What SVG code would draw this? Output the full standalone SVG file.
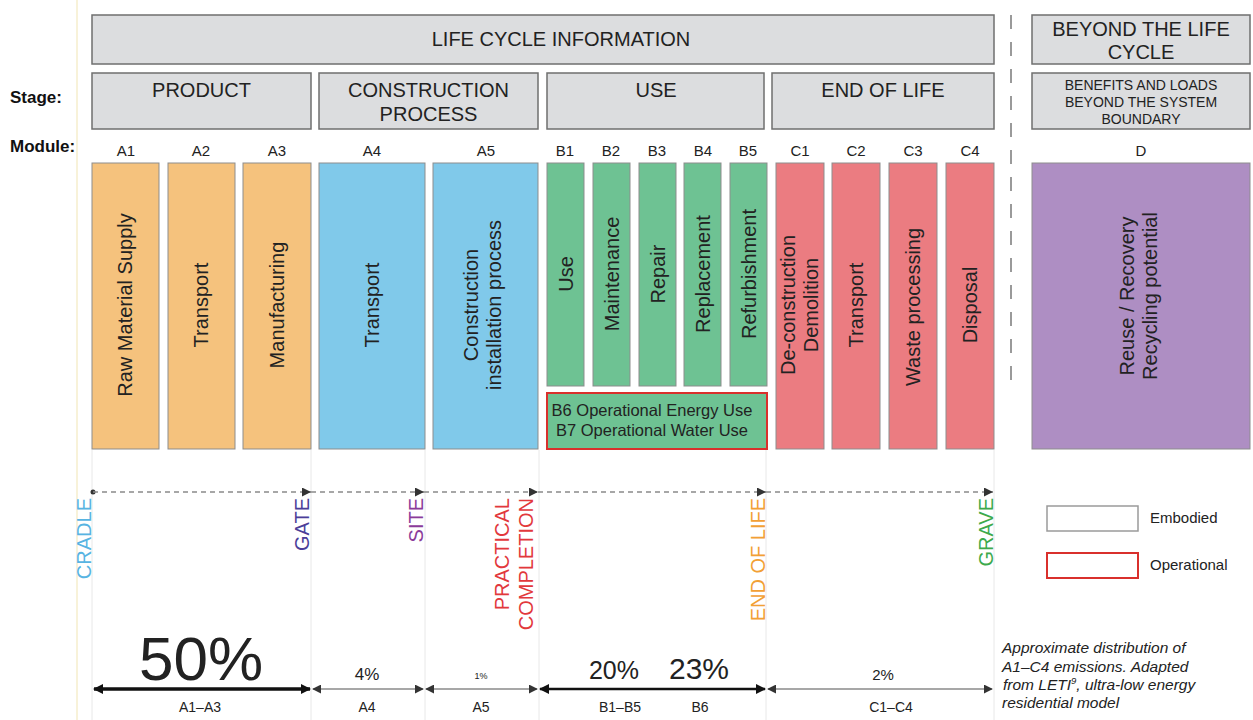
<svg xmlns="http://www.w3.org/2000/svg" width="1253" height="720" viewBox="0 0 1253 720">
<defs>
<style>
text{font-family:"Liberation Sans",Arial,Helvetica,sans-serif;fill:#222}
.hdr{fill:#dcdddf;stroke:#6f6f6f;stroke-width:1.5}
.h20{font-size:20px;text-anchor:middle}
.h14{font-size:14px;text-anchor:middle}
.lbl{font-size:17px;font-weight:bold;fill:#111}
.mod{font-size:15px;text-anchor:middle}
.col{stroke:#8d8d8d;stroke-width:1}
.or{fill:#f5c27d}.bl{fill:#80c9ea}.gr{fill:#6ec293}.rd{fill:#eb7c81}.pu{fill:#ae8ec3}
.ct{font-size:20px;text-anchor:middle}
.mk{font-size:20px;text-anchor:end}
.sep{stroke:#e8e8e8;stroke-width:1}
.pct{text-anchor:middle}
.ab{font-size:14px;text-anchor:middle}
.cap{font-size:15.5px;font-style:italic}
</style>
<marker id="mDash" viewBox="0 0 10 10" refX="10" refY="5" markerWidth="9" markerHeight="9" markerUnits="userSpaceOnUse" orient="auto"><path d="M0,0 L10,5 L0,10 z" fill="#333"/></marker>
<marker id="mThick" viewBox="0 0 10 10" refX="9" refY="5" markerWidth="12" markerHeight="10" markerUnits="userSpaceOnUse" orient="auto-start-reverse"><path d="M0,0 L10,5 L0,10 z" fill="#111"/></marker>
<marker id="mThin" viewBox="0 0 10 10" refX="9" refY="5" markerWidth="9" markerHeight="9" markerUnits="userSpaceOnUse" orient="auto-start-reverse"><path d="M0,0 L10,5 L0,10 z" fill="#333"/></marker>
</defs>
<rect width="1253" height="720" fill="#fff"/>
<line x1="77" y1="0" x2="77" y2="720" stroke="#f4eac0" stroke-width="1.2"/>
<g id="separators">
<line class="sep" x1="92" y1="450" x2="92" y2="720"/>
<line class="sep" x1="311" y1="450" x2="311" y2="720"/>
<line class="sep" x1="425" y1="450" x2="425" y2="720"/>
<line class="sep" x1="539" y1="450" x2="539" y2="720"/>
<line class="sep" x1="766" y1="450" x2="766" y2="720"/>
<line class="sep" x1="994" y1="450" x2="994" y2="720"/>
</g>
<line id="boundary" x1="1011" y1="15" x2="1011" y2="392" stroke="#7a7a7a" stroke-width="1.5" stroke-dasharray="14 13"/>

<text class="lbl" x="10" y="103">Stage:</text>
<text class="lbl" x="10" y="152">Module:</text>

<g id="lifecycle"><rect class="hdr" x="92" y="15" width="902" height="49"/><text class="h20" x="561" y="46">LIFE CYCLE INFORMATION</text></g>
<g id="beyond"><rect class="hdr" x="1032" y="15" width="218" height="49"/><text class="h20" x="1141" y="36">BEYOND THE LIFE</text><text class="h20" x="1141" y="59">CYCLE</text></g>
<g id="stage-product"><rect class="hdr" x="92" y="73" width="219" height="56"/><text class="h20" x="201.5" y="97">PRODUCT</text></g>
<g id="stage-construction"><rect class="hdr" x="319" y="73" width="219" height="56"/><text class="h20" x="428.5" y="97">CONSTRUCTION</text><text class="h20" x="428.5" y="121">PROCESS</text></g>
<g id="stage-use"><rect class="hdr" x="547" y="73" width="217" height="56"/><text class="h20" x="656" y="97">USE</text></g>
<g id="stage-eol"><rect class="hdr" x="772" y="73" width="222" height="56"/><text class="h20" x="883" y="97">END OF LIFE</text></g>
<g id="stage-benefits"><rect class="hdr" x="1032" y="73" width="218" height="56"/><text class="h14" x="1141" y="90">BENEFITS AND LOADS</text><text class="h14" x="1141" y="107">BEYOND THE SYSTEM</text><text class="h14" x="1141" y="124">BOUNDARY</text></g>

<g id="modules">
<text class="mod" x="126" y="156">A1</text>
<text class="mod" x="201" y="156">A2</text>
<text class="mod" x="277" y="156">A3</text>
<text class="mod" x="372" y="156">A4</text>
<text class="mod" x="486" y="156">A5</text>
<text class="mod" x="565" y="156">B1</text>
<text class="mod" x="611" y="156">B2</text>
<text class="mod" x="657" y="156">B3</text>
<text class="mod" x="703" y="156">B4</text>
<text class="mod" x="748" y="156">B5</text>
<text class="mod" x="800" y="156">C1</text>
<text class="mod" x="856" y="156">C2</text>
<text class="mod" x="913" y="156">C3</text>
<text class="mod" x="970" y="156">C4</text>
<text class="mod" x="1141" y="156">D</text>
</g>

<g id="A1"><rect class="col or" x="92" y="163" width="67" height="286"/><text class="ct" transform="translate(132 305) rotate(-90)">Raw Material Supply</text></g>
<g id="A2"><rect class="col or" x="168" y="163" width="67" height="286"/><text class="ct" transform="translate(208 305) rotate(-90)">Transport</text></g>
<g id="A3"><rect class="col or" x="243" y="163" width="68" height="286"/><text class="ct" transform="translate(284 305) rotate(-90)">Manufacturing</text></g>
<g id="A4"><rect class="col bl" x="319" y="163" width="106" height="286"/><text class="ct" transform="translate(379 305) rotate(-90)">Transport</text></g>
<g id="A5"><rect class="col bl" x="433" y="163" width="105" height="286"/><text class="ct" transform="translate(478 305) rotate(-90)">Construction</text><text class="ct" transform="translate(501 305) rotate(-90)">installation process</text></g>
<g id="B1"><rect class="col gr" x="547" y="163" width="37" height="223"/><text class="ct" transform="translate(573 274) rotate(-90)">Use</text></g>
<g id="B2"><rect class="col gr" x="593" y="163" width="37" height="223"/><text class="ct" transform="translate(619 274) rotate(-90)">Maintenance</text></g>
<g id="B3"><rect class="col gr" x="639" y="163" width="37" height="223"/><text class="ct" transform="translate(665 274) rotate(-90)">Repair</text></g>
<g id="B4"><rect class="col gr" x="684" y="163" width="37" height="223"/><text class="ct" transform="translate(710 274) rotate(-90)">Replacement</text></g>
<g id="B5"><rect class="col gr" x="730" y="163" width="37" height="223"/><text class="ct" transform="translate(756 274) rotate(-90)">Refurbishment</text></g>
<g id="B6B7"><rect x="547" y="393" width="220" height="56" fill="#6ec293" stroke="#d9302c" stroke-width="2"/><text font-size="16.5" text-anchor="middle" x="652" y="416">B6 Operational Energy Use</text><text font-size="16.5" text-anchor="middle" x="652" y="436">B7 Operational Water Use</text></g>
<g id="C1"><rect class="col rd" x="776" y="163" width="48" height="286"/><text class="ct" transform="translate(795 305) rotate(-90)">De-construction</text><text class="ct" transform="translate(818 305) rotate(-90)">Demolition</text></g>
<g id="C2"><rect class="col rd" x="832" y="163" width="48" height="286"/><text class="ct" transform="translate(863 305) rotate(-90)">Transport</text></g>
<g id="C3"><rect class="col rd" x="889" y="163" width="48" height="286"/><text class="ct" transform="translate(920 307) rotate(-90)">Waste processing</text></g>
<g id="C4"><rect class="col rd" x="946" y="163" width="48" height="286"/><text class="ct" transform="translate(977 305) rotate(-90)">Disposal</text></g>
<g id="D"><rect class="col pu" x="1032" y="163" width="218" height="286"/><text class="ct" transform="translate(1134 296) rotate(-90)">Reuse / Recovery</text><text class="ct" transform="translate(1157 296) rotate(-90)">Recycling potential</text></g>

<g id="connectors">
<circle cx="93" cy="492" r="2.5" fill="#333"/>
<g stroke="#8a8a8a" stroke-width="1.5" stroke-dasharray="5 4" fill="none" marker-end="url(#mDash)">
<line x1="93" y1="492" x2="311" y2="492"/>
<line x1="311" y1="492" x2="424" y2="492"/>
<line x1="424" y1="492" x2="538" y2="492"/>
<line x1="538" y1="492" x2="766" y2="492"/>
<line x1="766" y1="492" x2="993" y2="492"/>
</g>
<line x1="94" y1="689" x2="310" y2="689" stroke="#111" stroke-width="3.5" marker-start="url(#mThick)" marker-end="url(#mThick)"/>
<line x1="313" y1="689" x2="423" y2="689" stroke="#8a8a8a" stroke-width="1.5" marker-start="url(#mThin)" marker-end="url(#mThin)"/>
<line x1="426" y1="689" x2="537" y2="689" stroke="#8a8a8a" stroke-width="1.5" marker-start="url(#mThin)" marker-end="url(#mThin)"/>
<line x1="540" y1="689" x2="765" y2="689" stroke="#111" stroke-width="2.5" marker-start="url(#mThick)" marker-end="url(#mThick)"/>
<line x1="768" y1="689" x2="992" y2="689" stroke="#8a8a8a" stroke-width="1.5" marker-start="url(#mThin)" marker-end="url(#mThin)"/>
</g>

<g id="milestones">
<text class="mk" style="fill:#58b4e2" transform="translate(91 498) rotate(-90)">CRADLE</text>
<text class="mk" style="fill:#4b3e99" transform="translate(309 498) rotate(-90)">GATE</text>
<text class="mk" style="fill:#8b3c9a" transform="translate(423 498) rotate(-90)">SITE</text>
<text class="mk" style="fill:#e2383c" transform="translate(509 498) rotate(-90)">PRACTICAL</text>
<text class="mk" style="fill:#e2383c" transform="translate(533 498) rotate(-90)">COMPLETION</text>
<text class="mk" style="fill:#f2a035" transform="translate(765 498) rotate(-90)">END OF LIFE</text>
<text class="mk" style="fill:#3daa4c" transform="translate(993 498) rotate(-90)">GRAVE</text>
</g>

<g id="percentages">
<text class="pct" x="201" y="680" font-size="62">50%</text>
<text class="pct" x="367" y="680" font-size="17">4%</text>
<text class="pct" x="481" y="679" font-size="9">1%</text>
<text class="pct" x="614" y="679" font-size="25">20%</text>
<text class="pct" x="699" y="679" font-size="30">23%</text>
<text class="pct" x="883" y="680" font-size="15">2%</text>
<text class="ab" x="200" y="712">A1–A3</text>
<text class="ab" x="367" y="712">A4</text>
<text class="ab" x="481" y="712">A5</text>
<text class="ab" x="620" y="712">B1–B5</text>
<text class="ab" x="700" y="712">B6</text>
<text class="ab" x="891" y="712">C1–C4</text>
</g>

<g id="legend">
<rect x="1047" y="506" width="91" height="25" fill="#fff" stroke="#9a9a9a" stroke-width="1.5"/>
<text x="1150" y="523" font-size="15">Embodied</text>
<rect x="1047" y="553" width="91" height="25" fill="#fff" stroke="#d9302c" stroke-width="2"/>
<text x="1150" y="570" font-size="15">Operational</text>
</g>

<g id="caption">
<text class="cap" x="1002" y="653">Approximate distribution of</text>
<text class="cap" x="1002" y="671.5">A1–C4 emissions. Adapted</text>
<text class="cap" x="1003" y="690">from LETI<tspan font-size="9.5" dy="-6">9</tspan><tspan dy="6">, ultra-low energy</tspan></text>
<text class="cap" x="1002" y="708">residential model</text>
</g>
</svg>
